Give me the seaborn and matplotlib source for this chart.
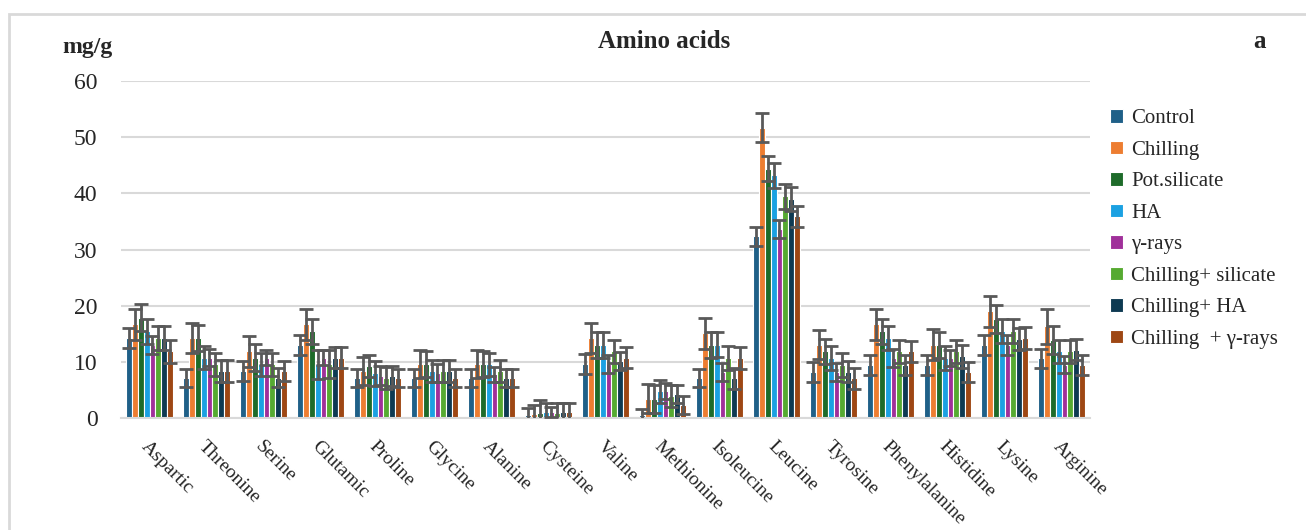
import pandas as pd
import seaborn as sns
import matplotlib.pyplot as plt
from matplotlib.patches import Rectangle

sns.set_style('white')
plt.rcParams['font.family'] = ['Liberation Serif', 'DejaVu Serif']

acids = ['Aspartic', 'Threonine', 'Serine', 'Glutamic', 'Proline', 'Glycine', 'Alanine',
         'Cysteine', 'Valine', 'Methionine', 'Isoleucine', 'Leucine', 'Tyrosine',
         'Phenylalanine', 'Histidine', 'Lysine', 'Arginine']

treatments = ['Control', 'Chilling', 'Pot.silicate', 'HA', 'γ-rays',
              'Chilling+ silicate', 'Chilling+ HA', 'Chilling  + γ-rays']

control = [14.3, 7.2, 8.4, 13.1, 7.2, 7.2, 7.2, 0.5, 9.6, 0.5, 7.2, 32.4, 8.3, 9.5, 9.5, 13.1, 10.7]
chilling = [16.7, 14.3, 11.9, 16.7, 8.4, 9.6, 9.6, 0.8, 14.3, 3.5, 15.1, 51.7, 13.1, 16.7, 13.1, 19.0, 16.4]
pot_silicate = [17.9, 14.3, 10.8, 15.5, 9.3, 9.6, 9.6, 1.0, 13.1, 3.5, 13.1, 44.4, 11.9, 15.5, 13.1, 17.6, 14.0]
ha = [15.5, 10.8, 9.6, 9.6, 8.0, 8.4, 9.6, 1.1, 13.1, 4.8, 13.1, 43.2, 10.7, 14.3, 10.7, 15.5, 11.9]
g_rays = [13.1, 10.8, 10.8, 10.8, 7.6, 8.1, 7.8, 1.1, 9.6, 4.8, 8.3, 33.6, 8.3, 10.7, 10.7, 13.1, 9.5]
chill_sil = [14.3, 9.6, 9.6, 9.6, 7.2, 8.4, 8.4, 1.0, 11.9, 4.0, 10.7, 39.5, 9.5, 11.9, 11.9, 15.5, 11.9]
chill_ha = [14.3, 8.4, 7.2, 10.8, 7.5, 8.4, 7.2, 1.1, 10.2, 4.4, 7.1, 39.0, 8.3, 9.5, 11.0, 14.1, 12.2]
chill_g = [11.9, 8.4, 8.4, 10.8, 7.2, 7.2, 7.2, 1.1, 10.8, 2.4, 10.7, 35.9, 7.1, 11.9, 8.3, 14.3, 9.5]

err_control = [1.8, 1.6, 1.8, 1.8, 1.6, 1.6, 1.6, 1.3, 1.8, 1.2, 1.6, 1.7, 1.8, 1.8, 1.8, 1.8, 1.7]
err_chilling = [2.8, 2.7, 2.7, 2.8, 2.5, 2.5, 2.5, 1.6, 2.7, 2.6, 2.7, 2.6, 2.6, 2.8, 2.7, 2.8, 3.1]
err_pot_silicate = [2.4, 2.3, 2.4, 2.2, 2.0, 2.3, 2.3, 2.2, 2.3, 2.5, 2.3, 2.2, 2.2, 2.2, 2.3, 2.5, 2.5]
err_ha = [2.2, 2.0, 2.0, 2.6, 2.2, 1.9, 2.0, 1.6, 2.3, 2.1, 2.2, 2.2, 2.1, 2.2, 2.1, 2.1, 2.1]
err_g_rays = [1.6, 1.5, 1.4, 1.4, 1.7, 1.6, 1.4, 0.9, 1.6, 1.4, 1.6, 1.6, 1.6, 1.6, 1.4, 1.8, 1.5]
err_chill_sil = [2.1, 2.0, 2.0, 2.5, 2.0, 1.9, 2.0, 1.8, 2.1, 2.0, 2.1, 2.2, 2.1, 2.1, 2.1, 2.1, 2.1]
err_chill_ha = [2.1, 1.9, 1.7, 1.8, 1.8, 1.9, 1.6, 1.7, 1.6, 1.6, 1.8, 2.2, 1.9, 1.8, 2.1, 2.0, 1.9]
err_chill_g = [2.0, 1.9, 1.8, 1.8, 1.6, 1.6, 1.6, 1.6, 1.8, 1.6, 1.9, 1.9, 1.8, 1.9, 1.8, 1.9, 1.8]

colors = ['#1F6088', '#ED7D31', '#1E6B2A', '#1BA1E2', '#A0309A', '#56AA31', '#0E3A52', '#9E4714']

values = [control, chilling, pot_silicate, ha, g_rays, chill_sil, chill_ha, chill_g]
errors = [err_control, err_chilling, err_pot_silicate, err_ha, err_g_rays,
          err_chill_sil, err_chill_ha, err_chill_g]

rows = []
for t, vals, errs in zip(treatments, values, errors):
    for a, v, e in zip(acids, vals, errs):
        rows.append({'acid': a, 'treatment': t, 'value': v, 'err': e})
df = pd.DataFrame(rows)

fig = plt.figure(figsize=(13.06, 5.30), dpi=100)
ax = fig.add_axes([121 / 1306, 1 - 418.3 / 530, (1090 - 121) / 1306, (418.3 - 81) / 530])

sns.barplot(data=df, x='acid', y='value', hue='treatment', order=acids, hue_order=treatments,
            palette=colors, errorbar=None, width=0.82, edgecolor='white', linewidth=0.8,
            saturation=1, ax=ax, legend=True, zorder=2)

# error bars on each bar
for cont, errs in zip(ax.containers, errors):
    xs = [p.get_x() + p.get_width() / 2 for p in cont.patches]
    hs = [p.get_height() for p in cont.patches]
    ax.errorbar(xs, hs, yerr=errs, fmt='none', ecolor='#595959', elinewidth=2,
                capsize=5, capthick=2, zorder=3)

ax.set_ylim(0, 60)
ax.set_xlim(-0.5, len(acids) - 0.5)
ax.set_yticks(range(0, 61, 10))
ax.yaxis.grid(True, color='#D9D9D9', linewidth=1.5, zorder=0)
ax.set_axisbelow(True)
for s in ['top', 'right', 'left']:
    ax.spines[s].set_visible(False)
ax.spines['bottom'].set_color('#D9D9D9')
ax.spines['bottom'].set_linewidth(1.5)
ax.tick_params(axis='y', length=0, labelsize=17, pad=17)
ax.tick_params(axis='x', length=0, labelsize=14, pad=14)
ax.set_xlabel('')
ax.set_ylabel('')
ax.set_xticks(range(len(acids)))
ax.set_xticklabels(acids, rotation=-45, ha='left', va='top', rotation_mode='anchor')

ax.legend(loc='upper left', bbox_to_anchor=(1100 / 1306, 1 - 99 / 530),
          bbox_transform=fig.transFigure, frameon=False, fontsize=15,
          handlelength=0.6, handleheight=0.6, handletextpad=0.4,
          labelspacing=0.6, borderpad=0)

fig.text(664 / 1306, 1 - 42 / 530, 'Amino acids', ha='center', va='center',
         fontsize=18, fontweight='bold')
fig.text(87 / 1306, 1 - 48 / 530, 'mg/g', ha='center', va='center',
         fontsize=17, fontweight='bold')
fig.text(1260 / 1306, 1 - 42 / 530, 'a', ha='center', va='center',
         fontsize=18, fontweight='bold')

fig.patches.append(Rectangle((9 / 1306, -0.05), 1.1, 0.05 + 1 - 14 / 530,
                             transform=fig.transFigure, fill=False,
                             edgecolor='#D9D9D9', linewidth=2))

plt.savefig('out.png', dpi=100)
